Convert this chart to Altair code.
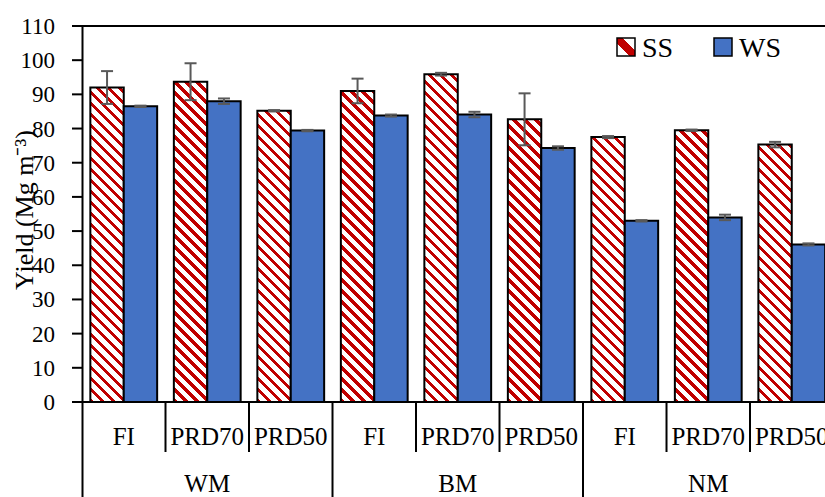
import altair as alt
import pandas as pd

# ---------------- data ----------------
groups = ["WM", "BM", "NM"]
treatments = ["FI", "PRD70", "PRD50"]
series = ["SS", "WS"]
ss_values = [92.0, 93.7, 85.2, 91.0, 95.9, 82.7, 77.5, 79.5, 75.3]
ss_errors = [4.8, 5.4, 0.2, 3.6, 0.4, 7.6, 0.3, 0.2, 0.8]
ws_values = [86.5, 88.0, 79.4, 83.8, 84.1, 74.3, 53.0, 54.0, 46.1]
ws_errors = [0.2, 0.8, 0.2, 0.3, 0.8, 0.5, 0.2, 0.8, 0.3]
y_ticks = list(range(0, 111, 10))
y_title = "Yield (Mg m\u207b\u00b3)"

# ---------------- layout / style ----------------
W, H = 743, 471
X_MAX = 8.898
Y_MIN, Y_MAX = -27.8, 110
FONT = "Liberation Serif"
FS = 23
FS_CAT = 25
FS_LEG = 28
RED = "#C00000"
BLUE = "#4472C4"
ERR = "#595959"
PX_X = W / X_MAX
PX_Y = H / (Y_MAX - Y_MIN)
ZERO_PX = (Y_MAX - 0) / (Y_MAX - Y_MIN) * H

n = len(ss_values)
rows = []
for i in range(n):
    g = groups[i // len(treatments)]
    t = treatments[i % len(treatments)]
    rows.append(dict(idx=i, group=g, treat=t, series=series[0], value=ss_values[i],
                     err=ss_errors[i], x0=i + 0.1, x1=i + 0.5))
    rows.append(dict(idx=i, group=g, treat=t, series=series[1], value=ws_values[i],
                     err=ws_errors[i], x0=i + 0.5, x1=i + 0.9))
df = pd.DataFrame(rows)
df["zero"] = 0.0
df["xc"] = (df.x0 + df.x1) / 2
df["lo"] = df.value - df.err
df["hi"] = df.value + df.err
cap = 6.0 / PX_X
df["c0"] = df.xc - cap
df["c1"] = df.xc + cap

xs = alt.Scale(domain=[0, X_MAX], nice=False, zero=False)
ys = alt.Scale(domain=[Y_MIN, Y_MAX], nice=False, zero=False)
yax = alt.Axis(values=y_ticks, title=None, labels=False, ticks=False,
               domainColor="black", domainWidth=2, grid=False)


def X(f):
    return alt.X(f, type="quantitative", scale=xs, axis=None)


def Y(f):
    return alt.Y(f, type="quantitative", scale=ys, axis=yax)


def hatch(w, h, period=11.0, red_frac=0.4):
    denom = w * w + h * h
    smax = w + h
    tmax = smax * w / denom

    def t(s):
        return round(min(max(s * w / denom, 0.0), tmax), 6)

    stops = []
    s = 0.0
    while s < smax:
        a, b, c = t(s), t(s + red_frac * period), t(s + period)
        stops += [{"offset": a, "color": RED}, {"offset": b, "color": RED},
                  {"offset": b, "color": "white"}, {"offset": c, "color": "white"}]
        s += period
    return {"gradient": "linear", "x1": 0, "y1": 1, "x2": 1, "y2": 1 - h / w,
            "stops": stops}


layers = []

# SS bars (hatched), one layer per bar so the hatch keeps a 45 degree angle
ss_df = df[df.series == series[0]]
for _, r in ss_df.iterrows():
    w = (r.x1 - r.x0) * PX_X
    h = r.value * PX_Y
    sub = ss_df[ss_df.idx == r.idx]
    layers.append(
        alt.Chart(sub).mark_rect(fill=hatch(w, h), stroke="black", strokeWidth=2)
        .encode(x=X("x0"), x2="x1", y=Y("value"), y2="zero")
    )

# WS bars
layers.append(
    alt.Chart(df[df.series == series[1]]).mark_rect(fill=BLUE, stroke="black", strokeWidth=2)
    .encode(x=X("x0"), x2="x1", y=Y("value"), y2="zero")
)

# error bars
layers.append(
    alt.Chart(df).mark_rule(color=ERR, strokeWidth=2)
    .encode(x=X("xc"), y=Y("lo"), y2="hi")
)
layers.append(
    alt.Chart(df).mark_rule(color=ERR, strokeWidth=2)
    .encode(x=X("c0"), x2="c1", y=Y("hi"))
)
layers.append(
    alt.Chart(df).mark_rule(color=ERR, strokeWidth=2)
    .encode(x=X("c0"), x2="c1", y=Y("lo"))
)

# top border and zero line
lines_df = pd.DataFrame({"y": [y_ticks[0], y_ticks[-1]]})
layers.append(
    alt.Chart(lines_df).mark_rule(color="black", strokeWidth=2).encode(y=Y("y"))
)

# y ticks and tick labels
ticks_df = pd.DataFrame({"v": y_ticks})
layers.append(
    alt.Chart(ticks_df).mark_rule(color="black", strokeWidth=2)
    .encode(y=Y("v"), x=alt.value(-10), x2=alt.value(0))
)
layers.append(
    alt.Chart(ticks_df).mark_text(font=FONT, fontSize=FS, color="black",
                                  align="right", baseline="middle", dy=1)
    .encode(y=Y("v"), x=alt.value(-27), text=alt.Text("v:Q", format="d"))
)

# y title
title_df = pd.DataFrame({"t": [y_title]})
layers.append(
    alt.Chart(title_df).mark_text(font=FONT, fontSize=26, color="black", angle=270,
                                  align="center", baseline="middle")
    .encode(x=alt.value(-57), y=alt.value(184), text="t:N")
)

# category separators
k = len(treatments)
sub_b = pd.DataFrame({"b": [i for i in range(1, n) if i % k != 0]})
grp_b = pd.DataFrame({"b": [i for i in range(1, n) if i % k == 0]})
layers.append(
    alt.Chart(sub_b).mark_rule(color="black", strokeWidth=2)
    .encode(x=X("b"), y=alt.value(ZERO_PX), y2=alt.value(426))
)
layers.append(
    alt.Chart(grp_b).mark_rule(color="black", strokeWidth=2)
    .encode(x=X("b"), y=alt.value(ZERO_PX), y2=alt.value(H))
)

# category labels
lab_df = pd.DataFrame({"x": [i + 0.5 for i in range(n)],
                       "t": [treatments[i % k] for i in range(n)]})
layers.append(
    alt.Chart(lab_df).mark_text(font=FONT, fontSize=FS_CAT, color="black",
                                baseline="alphabetic", align="center")
    .encode(x=X("x"), y=alt.value(419), text="t:N")
)
grp_df = pd.DataFrame({"x": [gi * k + k / 2 for gi in range(len(groups))],
                       "t": groups})
layers.append(
    alt.Chart(grp_df).mark_text(font=FONT, fontSize=FS_CAT, color="black",
                                baseline="alphabetic", align="center")
    .encode(x=X("x"), y=alt.value(466), text="t:N")
)

# legend
leg = pd.DataFrame({"s": series})
legend_hatch = {"gradient": "linear", "x1": 0, "y1": 1, "x2": 1, "y2": 0,
                "stops": [{"offset": 0, "color": "white"},
                          {"offset": 0.34, "color": "white"},
                          {"offset": 0.34, "color": RED},
                          {"offset": 0.66, "color": RED},
                          {"offset": 0.66, "color": "white"},
                          {"offset": 1, "color": "white"}]}
layers.append(
    alt.Chart(leg[leg.s == series[0]]).mark_rect(fill=legend_hatch, stroke="black", strokeWidth=1.5)
    .encode(x=alt.value(535), x2=alt.value(553), y=alt.value(12), y2=alt.value(30))
)
layers.append(
    alt.Chart(leg[leg.s == series[1]]).mark_rect(fill=BLUE, stroke="black", strokeWidth=1.5)
    .encode(x=alt.value(632), x2=alt.value(650), y=alt.value(12), y2=alt.value(30))
)
layers.append(
    alt.Chart(leg[leg.s == series[0]]).mark_text(font=FONT, fontSize=FS_LEG, color="black",
                                                 baseline="alphabetic", align="left")
    .encode(x=alt.value(560), y=alt.value(31), text="s:N")
)
layers.append(
    alt.Chart(leg[leg.s == series[1]]).mark_text(font=FONT, fontSize=FS_LEG, color="black",
                                                 baseline="alphabetic", align="left")
    .encode(x=alt.value(657), y=alt.value(31), text="s:N")
)

chart = (
    alt.layer(*layers)
    .properties(width=W, height=H,
                padding={"left": 82, "top": 26, "right": 0, "bottom": 0},
                autosize=alt.AutoSizeParams(type="none"),
                background="white")
    .configure_view(stroke=None)
)

chart.save("out.html", embed_options={"renderer": "svg", "actions": False})
